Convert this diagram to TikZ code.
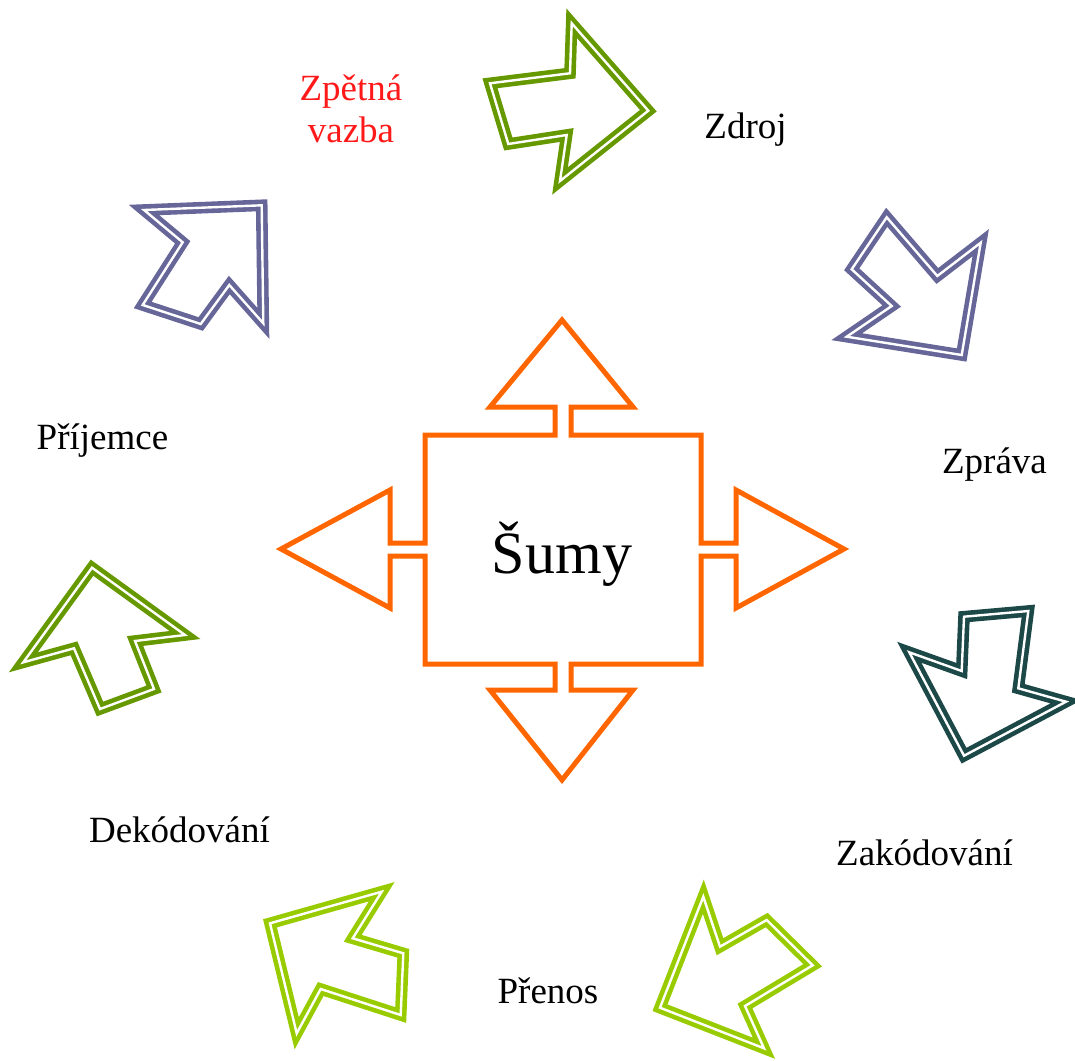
\documentclass[tikz,border=0pt]{standalone}
\usepackage{fontspec}
\setmainfont{Liberation Serif}
\definecolor{olivegreen}{RGB}{102,153,0}
\definecolor{limegreen}{RGB}{153,204,0}
\definecolor{slateviolet}{RGB}{102,102,153}
\definecolor{darkteal}{RGB}{28,72,72}
\definecolor{noiseorange}{RGB}{255,102,0}
\definecolor{fbred}{RGB}{255,25,25}
\begin{document}
\begin{tikzpicture}[x=1pt,y=-1pt,
  dblarrow/.style={draw=#1, double=white, line width=4.6pt, double distance=2.4pt, line join=miter},
  lbl/.style={font=\fontsize{37}{44}\selectfont, inner sep=0pt, anchor=base},
  noise/.style={draw=noiseorange, line width=5pt, line join=miter}
]
\useasboundingbox (0,0) rectangle (1075,1060);

% central quad arrow
\draw[noise] (425,435) -- (555,435) -- (555,407) -- (490,407) -- (562,320) -- (633,407) -- (571,407) -- (571,435)
  -- (701,435) -- (701,543) -- (736,543) -- (736,490) -- (844,549) -- (736,608) -- (736,556) -- (701,556)
  -- (701,664) -- (571,664) -- (571,690) -- (633,690) -- (562,780) -- (490,690) -- (555,690) -- (555,664)
  -- (425,664) -- (425,556) -- (390,556) -- (390,608) -- (281,549) -- (390,490) -- (390,543) -- (425,543) -- cycle;
\node[font=\fontsize{60}{70}\selectfont, inner sep=0pt, anchor=base] (sumy) at (562,573) {Šumy};

% arrow 1: top, olive green
\draw[dblarrow=olivegreen] (490,83.3) -- (570,73.3) -- (571.7,23.3) -- (648.3,110.7) -- (560,181) -- (566.7,135) -- (508.3,144) -- cycle;
% arrow 2: purple, upper right
\draw[dblarrow=slateviolet] (886.7,217.3) -- (851.7,269.3) -- (891.7,306) -- (846.7,336.7) -- (961.7,355) -- (980.7,242.7) -- (937.3,276) -- cycle;
% arrow 3: dark teal, right
\draw[dblarrow=darkteal] (964,616.7) -- (1028.3,611) -- (1018.3,688.3) -- (1066,701.7) -- (964,755.7) -- (909.3,652.3) -- (961.7,671) -- cycle;
% arrow 4: lime, lower right
\draw[dblarrow=limegreen] (703.3,896.7) -- (720,946.7) -- (766.7,920) -- (812.7,965.3) -- (745,1006) -- (764,1048.3) -- (660,1007.7) -- cycle;
% arrow 5: lime, lower left
\draw[dblarrow=limegreen] (381.7,891.7) -- (270,923.3) -- (296.7,1033.3) -- (320.7,989) -- (400.7,1015) -- (403.3,953.3) -- (352.7,938.3) -- cycle;
% arrow 6: olive green, left
\draw[dblarrow=olivegreen] (92,567.7) -- (185,635) -- (135,641) -- (154,689) -- (100,709) -- (74,648.3) -- (23.3,662.3) -- cycle;
% arrow 7: purple, upper left
\draw[dblarrow=slateviolet] (144,210) -- (261.7,205.3) -- (263.3,323.3) -- (229.3,285) -- (200.7,324) -- (142.7,305) -- (182.7,242.3) -- cycle;

% labels
\node[lbl, text=fbred] (fb1) at (351,100) {Zpětná};
\node[lbl, text=fbred] (fb2) at (351,142) {vazba};
\node[lbl] (zdroj) at (745.5,138) {Zdroj};
\node[lbl] (zprava) at (994.5,473) {Zpráva};
\node[lbl] (zakod) at (924.5,865) {Zakódování};
\node[lbl] (prenos) at (548,1003) {Přenos};
\node[lbl] (dekod) at (179.5,842) {Dekódování};
\node[lbl] (prij) at (102.5,449) {Příjemce};
\end{tikzpicture}
\end{document}
